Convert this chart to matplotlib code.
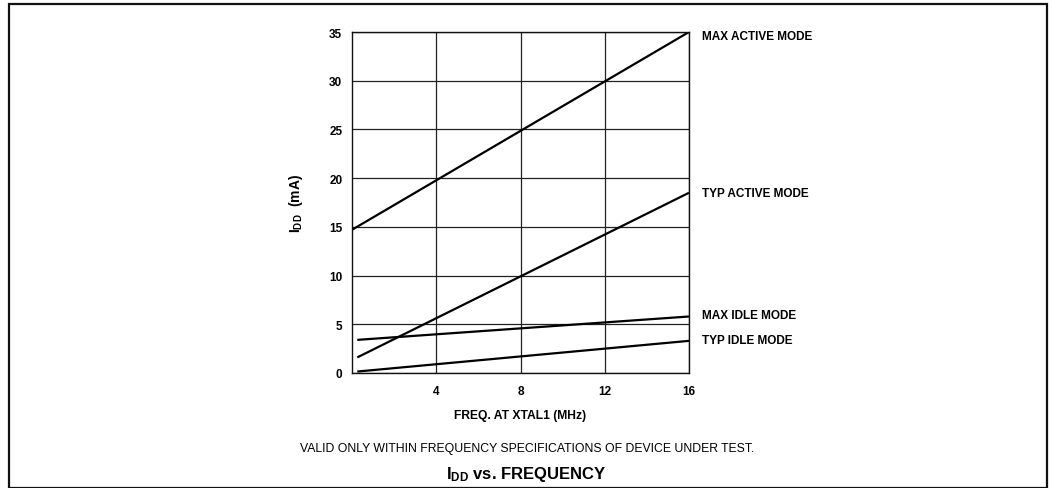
import matplotlib
matplotlib.use("Agg")
import matplotlib.pyplot as plt
from matplotlib.patches import Rectangle

plt.rcParams['font.family'] = ['Liberation Sans', 'DejaVu Sans']
plt.rcParams['mathtext.fontset'] = 'custom'
plt.rcParams['mathtext.rm'] = 'Liberation Sans'
plt.rcParams['mathtext.bf'] = 'Liberation Sans:bold'

# Data (frequency in MHz, IDD in mA)
max_active_x = [0, 16]
max_active_y = [14.7, 35]
typ_active_x = [0.25, 16]
typ_active_y = [1.6, 18.5]
max_idle_x = [0.25, 16]
max_idle_y = [3.4, 5.8]
typ_idle_x = [0.25, 16]
typ_idle_y = [0.15, 3.3]
series_labels = ["MAX ACTIVE MODE", "TYP ACTIVE MODE", "MAX IDLE MODE", "TYP IDLE MODE"]
label_y = [34.6, 18.5, 5.95, 3.4]
x_ticks = [4, 8, 12, 16]
y_ticks = [0, 5, 10, 15, 20, 25, 30, 35]

fig = plt.figure(figsize=(10.53, 4.89), dpi=100)

# outer border box
fig.patches.append(Rectangle((9/1053, 0.5/489), (1047-9)/1053, (484-0.5)/489,
                             transform=fig.transFigure, fill=False,
                             edgecolor='#111111', linewidth=1.6))

ax = fig.add_axes([352/1053, 1 - 374/489, 337/1053, 341/489])
ax.set_xlim(0, 16)
ax.set_ylim(0, 35)
ax.set_xticks(x_ticks)
ax.set_yticks(y_ticks)
ax.tick_params(length=0, labelsize=8.5)
ax.tick_params(axis='y', pad=7)
ax.tick_params(axis='x', pad=9)
for lab in ax.get_xticklabels() + ax.get_yticklabels():
    lab.set_fontweight('bold')
ax.grid(True, color='#222222', linewidth=0.9)
for s in ax.spines.values():
    s.set_color('#111111')
    s.set_linewidth(1.0)

for xs, ys in [(max_active_x, max_active_y), (typ_active_x, typ_active_y),
               (max_idle_x, max_idle_y), (typ_idle_x, typ_idle_y)]:
    ax.plot(xs, ys, color='black', linewidth=1.6, solid_capstyle='butt')

for lab, yv in zip(series_labels, label_y):
    ax.text(16.6, yv, lab, fontsize=8.5, fontweight='bold', va='center', ha='left',
            clip_on=False)

ax.set_xlabel("FREQ. AT XTAL1 (MHz)", fontsize=8.7, fontweight='bold', labelpad=8)
ax.set_ylabel(r"$\mathbf{I_{DD}}$  (mA)", fontsize=10, fontweight='bold', labelpad=17)

fig.text(527/1053, 1 - 449/489, "VALID ONLY WITHIN FREQUENCY SPECIFICATIONS OF DEVICE UNDER TEST.",
         fontsize=8.8, ha='center', va='center')
fig.text(526/1053, 1 - 475/489, r"$\mathbf{I_{DD}}$ vs. FREQUENCY",
         fontsize=12, fontweight='bold', ha='center', va='center')

fig.savefig("out.png", dpi=100)
